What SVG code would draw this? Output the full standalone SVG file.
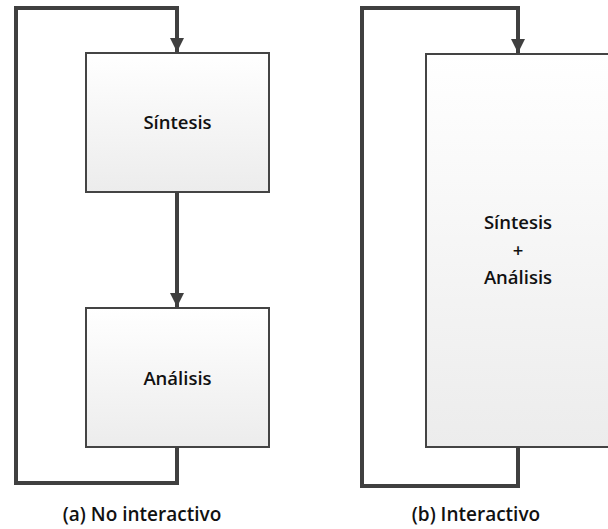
<svg xmlns="http://www.w3.org/2000/svg" width="608" height="529" viewBox="0 0 608 529">
<style>
.box{stroke:#444;stroke-width:2;fill:url(#g)}
.con{fill:none;stroke:#404040;stroke-width:4}
.t{font-family:"Open Sans","Liberation Sans",sans-serif;font-weight:600;font-size:18.5px;fill:#111;text-anchor:middle}
.cap{font-size:19px}
</style>
<defs>
<linearGradient id="g" x1="0" y1="0" x2="0" y2="1">
<stop offset="0" stop-color="#ffffff"/>
<stop offset="1" stop-color="#ececec"/>
</linearGradient>
<marker id="ah" viewBox="0 0 10 10" refX="10" refY="5" markerWidth="3.5" markerHeight="3.5" orient="auto" markerUnits="strokeWidth">
<path d="M0,0 L10,5 L0,10 z" fill="#404040"/>
</marker>
</defs>
<g id="sintesis">
<rect class="box" x="86" y="53" width="183" height="139"/>
<text class="t" x="177.5" y="129">Síntesis</text>
</g>
<g id="analisis">
<rect class="box" x="86" y="308" width="183" height="139"/>
<text class="t" x="177.5" y="385">Análisis</text>
</g>
<g id="sintesis-analisis">
<rect class="box" x="426" y="54" width="190" height="393"/>
<text class="t" x="518" y="229">Síntesis</text>
<text class="t" x="518" y="257">+</text>
<text class="t" x="518" y="284">Análisis</text>
</g>
<g id="connectors">
<path class="con" d="M177,447 V483 H16 V8 H177 V52" marker-end="url(#ah)"/>
<path class="con" d="M177,192 V307" marker-end="url(#ah)"/>
<path class="con" d="M518,447 V486 H362 V8 H518 V53" marker-end="url(#ah)"/>
</g>
<g id="captions">
<text class="t cap" x="142" y="521">(a) No interactivo</text>
<text class="t cap" x="476" y="521">(b) Interactivo</text>
</g>
</svg>
